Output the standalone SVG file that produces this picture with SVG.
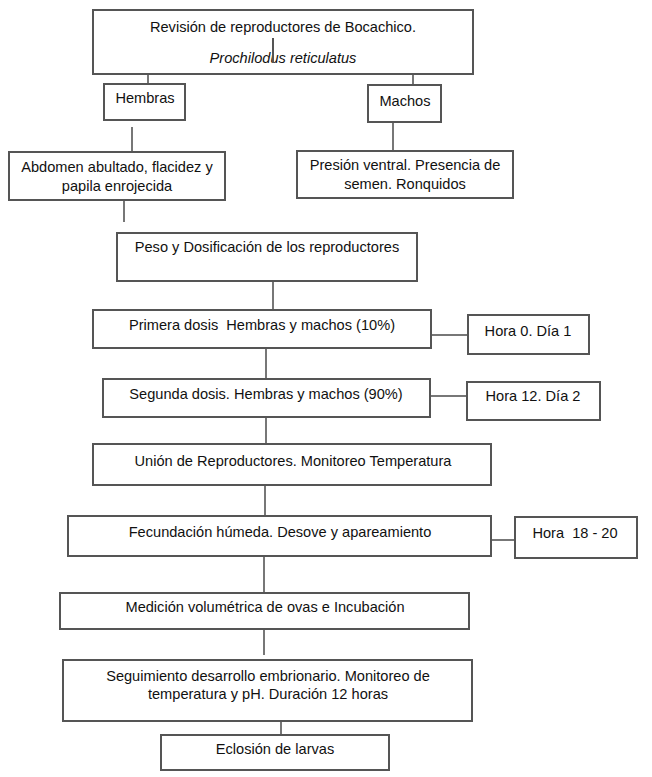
<svg xmlns="http://www.w3.org/2000/svg" width="652" height="777" viewBox="0 0 652 777">
<style>
.box{fill:#fff;stroke:#555;stroke-width:2}
.t{font-family:"Liberation Sans",Arial,sans-serif;font-size:14.6px;fill:#111;text-anchor:middle;white-space:pre}
.c{stroke:#777;stroke-width:2;fill:none}
</style>
<rect width="652" height="777" fill="#fff"/>
<g id="connectors">
<line class="c" x1="148" y1="75" x2="148" y2="84"/>
<line class="c" x1="413" y1="75" x2="413" y2="85"/>
<line class="c" x1="132" y1="127" x2="132" y2="152"/>
<line class="c" x1="393" y1="122" x2="393" y2="151"/>
<line class="c" x1="124" y1="200" x2="124" y2="222" stroke="#222"/>
<line class="c" x1="273" y1="281" x2="273" y2="310"/>
<line class="c" x1="431" y1="335" x2="468" y2="335"/>
<line class="c" x1="266" y1="348" x2="266" y2="379"/>
<line class="c" x1="430" y1="396" x2="467" y2="396"/>
<line class="c" x1="266" y1="417" x2="266" y2="444"/>
<line class="c" x1="265" y1="485" x2="265" y2="516"/>
<line class="c" x1="491" y1="540" x2="515" y2="540"/>
<line class="c" x1="264" y1="556" x2="264" y2="593"/>
<line class="c" x1="264" y1="629" x2="264" y2="655"/>
<line class="c" x1="281" y1="721" x2="281" y2="735"/>
</g>
<g id="top">
<rect class="box" x="93" y="10" width="380" height="64" stroke="#333"/>
<text class="t" x="283" y="32">Revisión de reproductores de Bocachico.</text>
<text class="t" x="283" y="63" font-style="italic">Prochilodus reticulatus</text>
<line x1="273" y1="38" x2="273" y2="63" stroke="#555" stroke-width="2"/>
</g>
<g id="hembras">
<rect class="box" x="104" y="84" width="81" height="36"/>
<text class="t" x="145" y="103">Hembras</text>
</g>
<g id="machos">
<rect class="box" x="368" y="85" width="73" height="37"/>
<text class="t" x="405" y="106">Machos</text>
</g>
<g id="abdomen">
<rect class="box" x="9" y="152" width="216" height="48"/>
<text class="t" x="117" y="172">Abdomen abultado, flacidez y</text>
<text class="t" x="117" y="191">papila enrojecida</text>
</g>
<g id="presion">
<rect class="box" x="297" y="151" width="216" height="47"/>
<text class="t" x="405" y="170">Presión ventral. Presencia de</text>
<text class="t" x="405" y="189">semen. Ronquidos</text>
</g>
<g id="peso">
<rect class="box" x="117" y="233" width="300" height="48"/>
<text class="t" x="267" y="252">Peso y Dosificación de los reproductores</text>
</g>
<g id="primera">
<rect class="box" x="93" y="310" width="338" height="38"/>
<text class="t" x="262" y="330">Primera dosis  Hembras y machos (10%)</text>
</g>
<g id="hora0">
<rect class="box" x="468" y="315" width="121" height="39"/>
<text class="t" x="528" y="336">Hora 0. Día 1</text>
</g>
<g id="segunda">
<rect class="box" x="103" y="379" width="327" height="38"/>
<text class="t" x="266" y="399">Segunda dosis. Hembras y machos (90%)</text>
</g>
<g id="hora12">
<rect class="box" x="467" y="382" width="133" height="38"/>
<text class="t" x="533" y="401">Hora 12. Día 2</text>
</g>
<g id="union">
<rect class="box" x="93" y="444" width="398" height="41"/>
<text class="t" x="293" y="466">Unión de Reproductores. Monitoreo Temperatura</text>
</g>
<g id="fecundacion">
<rect class="box" x="68" y="516" width="423" height="40"/>
<text class="t" x="280" y="537">Fecundación húmeda. Desove y apareamiento</text>
</g>
<g id="hora18">
<rect class="box" x="515" y="517" width="122" height="41"/>
<text class="t" x="575" y="538">Hora  18 - 20</text>
</g>
<g id="medicion">
<rect class="box" x="60" y="593" width="409" height="36"/>
<text class="t" x="265" y="612">Medición volumétrica de ovas e Incubación</text>
</g>
<g id="seguimiento">
<rect class="box" x="63" y="660" width="409" height="61"/>
<text class="t" x="268" y="681">Seguimiento desarrollo embrionario. Monitoreo de</text>
<text class="t" x="268" y="699">temperatura y pH. Duración 12 horas</text>
</g>
<g id="eclosion">
<rect class="box" x="161" y="735" width="228" height="35"/>
<text class="t" x="275" y="754">Eclosión de larvas</text>
</g>
</svg>
